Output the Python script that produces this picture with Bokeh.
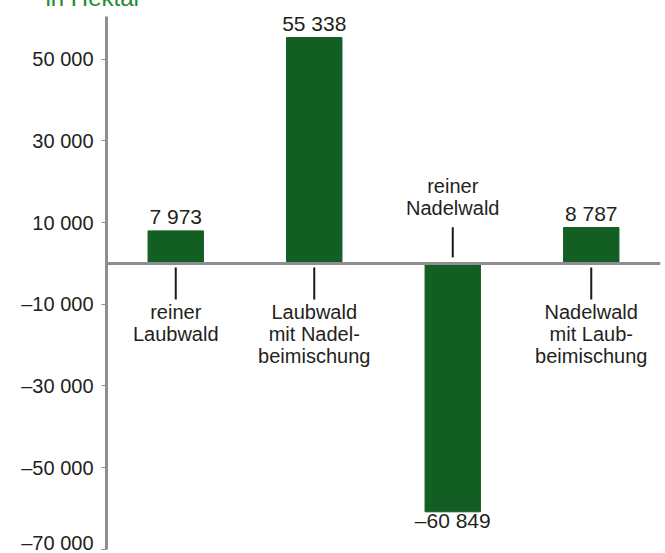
from bokeh.plotting import figure
from bokeh.models import Range1d, FixedTicker, Span, ColumnDataSource, Title
from bokeh.core.properties import value
from bokeh.embed import file_html
from bokeh.resources import INLINE

# ---- data ----
categories = ["reiner\nLaubwald", "Laubwald\nmit Nadel-\nbeimischung",
              "reiner\nNadelwald", "Nadelwald\nmit Laub-\nbeimischung"]
values = [7973, 55338, -60849, 8787]
value_labels = ["7 973", "55 338", "–60 849", "8 787"]
tick_values = [-70000, -50000, -30000, -10000, 10000, 30000, 50000]
tick_labels = ["–70 000", "–50 000", "–30 000", "–10 000", "10 000", "30 000", "50 000"]
unit_label = "in Hektar"

FONT = "Liberation Sans"
GREEN = "#135e23"
GREY = "#8e8e90"
TXT = "#231f20"

x = list(range(1, len(values) + 1))
Y_TOP, Y_BOT = 61475, -71065
AX_TOP, AX_BOT = 60500, -70100

p = figure(width=655, height=574, output_backend="svg", toolbar_location=None,
           x_range=Range1d(0.5, 4.5), y_range=Range1d(Y_BOT, Y_TOP),
           x_axis_location=None, min_border_left=98, min_border_right=3,
           min_border_top=0, min_border_bottom=0, margin=(-21, 0, -8, 8))
p.outline_line_color = None
p.xgrid.visible = False
p.ygrid.visible = False
p.background_fill_color = "white"
p.border_fill_color = "white"

t = Title(text=unit_label, text_color="#1e8a32", text_font=FONT, text_font_size="24px",
          text_font_style="normal", align="left", offset=-61, standoff=4)
p.add_layout(t, "above")

ax = p.yaxis[0]
ax.bounds = (AX_BOT, AX_TOP)
ax.ticker = FixedTicker(ticks=tick_values)
ax.major_label_overrides = {v: l for v, l in zip(tick_values, tick_labels)}
ax.axis_line_color = GREY
ax.axis_line_width = 3
ax.major_tick_line_color = GREY
ax.major_tick_line_width = 1
ax.major_tick_out = 5
ax.major_tick_in = 0
ax.minor_tick_line_color = None
ax.major_label_text_font = FONT
ax.major_label_text_font_size = "20px"
ax.major_label_text_color = TXT
ax.major_label_standoff = 8

src = ColumnDataSource(dict(x=x, top=values, vl=value_labels, cat=categories))
p.vbar(x="x", top="top", bottom=0, width=0.4, source=src, fill_color=GREEN, line_color=GREEN)

p.add_layout(Span(location=0, dimension="width", line_color=GREY, line_width=3))

# value labels
pos = [i for i, v in enumerate(values) if v >= 0]
neg = [i for i, v in enumerate(values) if v < 0]
p.text(x=[x[i] for i in pos], y=[values[i] for i in pos], text=[value_labels[i] for i in pos],
       text_font=value(FONT), text_font_size="21px", text_color=TXT,
       text_align="center", text_baseline="bottom", y_offset=-3)
p.text(x=[x[i] for i in neg], y=[values[i] for i in neg], text=[value_labels[i] for i in neg],
       text_font=value(FONT), text_font_size="21px", text_color=TXT,
       text_align="center", text_baseline="top", y_offset=-3)

# category labels with connector lines (below zero for positive bars, above for negative)
ppu = 4.0667 / 1000  # px per data unit
d0, d1 = 4 / ppu, 36 / ppu
p.segment(x0=[x[i] for i in pos], x1=[x[i] for i in pos], y0=[-d0] * len(pos), y1=[-d1] * len(pos),
          line_color="#1a1a1a", line_width=2)
p.segment(x0=[x[i] for i in neg], x1=[x[i] for i in neg], y0=[d0 + 2 / ppu] * len(neg), y1=[d1] * len(neg),
          line_color="#1a1a1a", line_width=2)
p.text(x=[x[i] for i in pos], y=[0] * len(pos), text=[categories[i] for i in pos],
       text_font=value(FONT), text_font_size="20px", text_color=TXT, text_line_height=1.0,
       text_align="center", text_baseline="top", y_offset=38)
p.text(x=[x[i] for i in neg], y=[0] * len(neg), text=[categories[i] for i in neg],
       text_font=value(FONT), text_font_size="20px", text_color=TXT, text_line_height=1.0,
       text_align="center", text_baseline="bottom", y_offset=-44)

open("out.html", "w").write(file_html(p, INLINE))
